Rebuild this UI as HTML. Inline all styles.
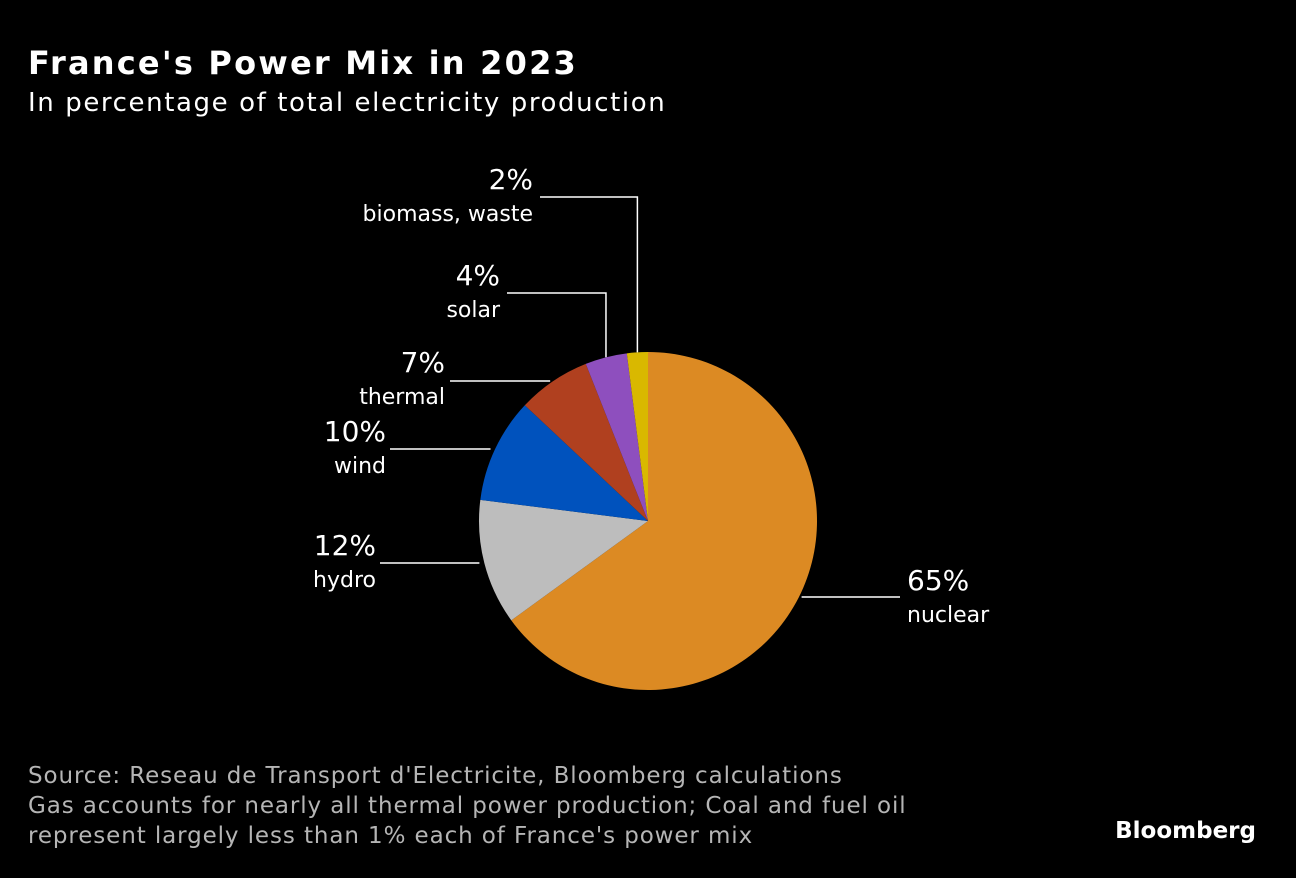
<!DOCTYPE html>
<html><head><meta charset="utf-8"><style>
body{margin:0;background:#000;width:1296px;height:874px;overflow:hidden;font-family:"DejaVu Sans","Liberation Sans",sans-serif;color:#fff}
svg text{font-family:"DejaVu Sans","Liberation Sans",sans-serif}
</style></head><body>
<svg width="1296" height="874">
<rect width="1296" height="874" fill="#000"/>
<text x="28" y="74" font-size="32" font-weight="bold" letter-spacing="2.2" fill="#fff">France's Power Mix in 2023</text>
<text x="28" y="111" font-size="26" letter-spacing="1.6" fill="#fff">In percentage of total electricity production</text>
<g id="pie"></g>
<g id="labels"></g>
<text x="28" y="783" font-size="23" letter-spacing="0.9" fill="#b5b5b5">Source: Reseau de Transport d'Electricite, Bloomberg calculations</text>
<text x="28" y="813" font-size="23" letter-spacing="0.9" fill="#b5b5b5">Gas accounts for nearly all thermal power production; Coal and fuel oil</text>
<text x="28" y="843" font-size="23" letter-spacing="0.9" fill="#b5b5b5">represent largely less than 1% each of France's power mix</text>
<text x="1256" y="838" font-size="23" font-weight="bold" fill="#fff" text-anchor="end">Bloomberg</text>
</svg>
<script>
const categories=["nuclear","hydro","wind","thermal","solar","biomass, waste"];
const values=[65,12,10,7,4,2];
const colors=["#dc8a23","#bdbdbd","#0052bd","#b0401f","#8e4fbe","#d9b800"];
const cx=648,cy=521,r=169;
const NS="http://www.w3.org/2000/svg";
const pie=document.getElementById('pie'),lg=document.getElementById('labels');
const total=values.reduce((a,b)=>a+b,0);
function pt(a,rr){return [cx+rr*Math.sin(a),cy-rr*Math.cos(a)];}
let acc=0;
const lay=[[907,590,"start",900,597,false],[376,555,"end",380,563,false],[386,441,"end",390,449,false],[445,372,"end",450,381,false],[500,285,"end",507,293,true],[533,189,"end",540,197,true]];
values.forEach((v,i)=>{
  const a0=acc/total*2*Math.PI; acc+=v; const a1=acc/total*2*Math.PI;
  const p0=pt(a0,r),p1=pt(a1,r);
  const path=document.createElementNS(NS,'path');
  path.setAttribute('d',`M${cx},${cy}L${p0[0]},${p0[1]}A${r},${r} 0 ${a1-a0>Math.PI?1:0} 1 ${p1[0]},${p1[1]}Z`);
  path.setAttribute('fill',colors[i]);
  
  
  pie.appendChild(path);
  const am=(a0+a1)/2, L=lay[i];
  const line=document.createElementNS(NS,'path');
  let d;
  if(L[5]){const e=pt(am,r);d=`M${L[3]},${L[4]}H${e[0]}V${e[1]}`;}
  else{d=`M${L[3]},${L[4]}H${pt(am,i==0?r*1.02:r*1.03)[0]}`;}
  line.setAttribute('d',d);line.setAttribute('stroke','#fff');line.setAttribute('stroke-width','1.5');line.setAttribute('fill','none');
  
  
  lg.appendChild(line);
  const t1=document.createElementNS(NS,'text');
  t1.setAttribute('x',L[0]);t1.setAttribute('y',L[1]);t1.setAttribute('font-size','28');t1.setAttribute('fill','#fff');t1.setAttribute('text-anchor',L[2]);
  t1.textContent=v+'%';
  
  
  lg.appendChild(t1);
  const t2=document.createElementNS(NS,'text');
  t2.setAttribute('x',L[0]);t2.setAttribute('y',L[1]+32);t2.setAttribute('font-size','22');t2.setAttribute('fill','#fff');t2.setAttribute('text-anchor',L[2]);
  t2.textContent=categories[i];
  
  
  lg.appendChild(t2);
});
</script>
</body></html>
